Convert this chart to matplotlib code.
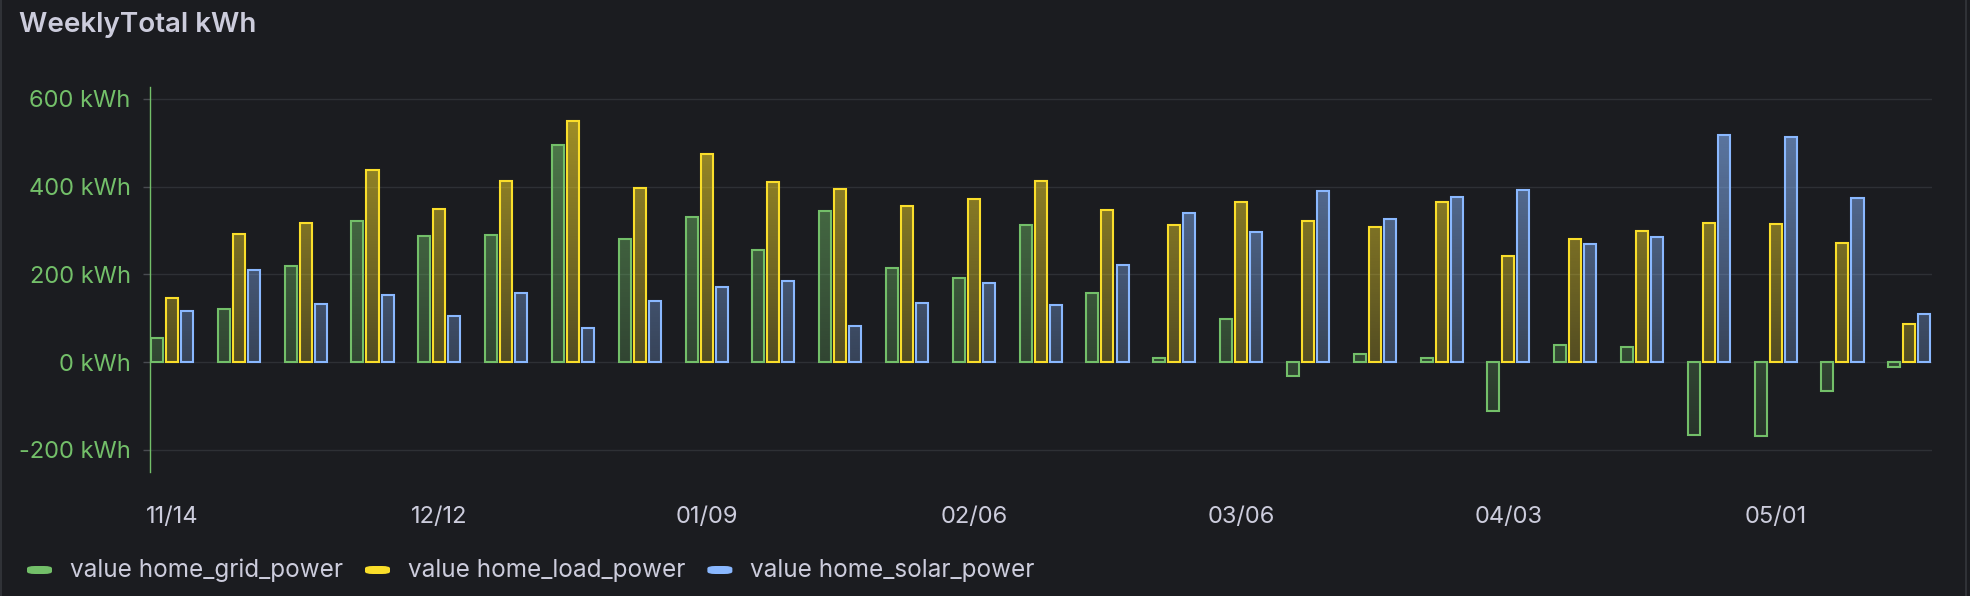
import numpy as np
import pandas as pd
import matplotlib
matplotlib.use("Agg")
import matplotlib.pyplot as plt
from matplotlib.path import Path
from matplotlib.patches import Rectangle, FancyBboxPatch
from matplotlib.colors import to_rgb

plt.rcParams['font.family'] = ['Inter', 'DejaVu Sans']

# weekly totals (kWh), one value per week starting 2022-11-14
weeks = pd.date_range('2022-11-14', periods=27, freq='7D')
grid_power = [55, 121, 219, 322, 287, 290, 494, 280, 331, 255, 344, 214, 192, 312,
              157, 9, 98, -32, 18, 9, -112, 39, 34, -166, -169, -66, -11]
load_power = [146, 291, 317, 437, 348, 412, 549, 398, 474, 410, 395, 357, 372, 413,
              347, 312, 364, 321, 308, 365, 242, 280, 299, 317, 315, 271, 87]
solar_power = [116, 210, 132, 153, 105, 157, 78, 139, 171, 184, 82, 135, 180, 130,
               221, 340, 296, 390, 326, 376, 392, 269, 285, 518, 513, 374, 109]

series = [
    ('value home_grid_power', grid_power, '#73BF69'),
    ('value home_load_power', load_power, '#FADE2A'),
    ('value home_solar_power', solar_power, '#8AB8FF'),
]
yticks = [-200, 0, 200, 400, 600]

bg = '#1b1c20'
text_col = '#ccccdc'
W, H = 1970, 596

fig = plt.figure(figsize=(W / 100, H / 100), dpi=100, facecolor=bg)
ax = fig.add_axes([150 / W, 1 - 471.7 / H, (1932 - 150) / W, (471.7 - 86.7) / H])
ax.set_facecolor(bg)

x = np.arange(len(weeks))
ylim = (-250, 628)
xlim = (-0.33, len(weeks) - 1 + 0.34)
offsets = [-0.225, 0.0, 0.225]
bw = 0.18

for (name, vals, col), off in zip(series, offsets):
    bars = ax.bar(x + off, vals, bw, facecolor='none', edgecolor=col,
                  linewidth=1.5, zorder=3)
    # gradient fill clipped to the bars
    paths = [b.get_path().transformed(b.get_patch_transform()) for b in bars]
    clip = Path.make_compound_path(*paths)
    n = 256
    grad = np.zeros((n, 1, 4))
    grad[:, 0, :3] = to_rgb(col)
    grad[:, 0, 3] = np.linspace(0.10, 0.64, n)
    im = ax.imshow(grad, extent=[xlim[0], xlim[1], ylim[0], ylim[1]],
                   origin='lower', aspect='auto', zorder=2, interpolation='bilinear')
    im.set_clip_path(clip, ax.transData)

ax.set_xlim(*xlim)
ax.set_ylim(*ylim)

ax.set_yticks(yticks)
ax.set_yticklabels([f'{v} kWh' for v in yticks])
ax.grid(axis='y', color='#2e3035', linewidth=1, zorder=0)
ax.grid(axis='x', visible=False)
ax.tick_params(axis='y', colors='#4a4c52', labelcolor='#73BF69', length=5,
               width=1, pad=9, labelsize=17)

tick_idx = x[::4]
ax.set_xticks(tick_idx)
ax.set_xticklabels([weeks[i].strftime('%m/%d') for i in tick_idx])
ax.tick_params(axis='x', length=0, pad=25, labelcolor=text_col, labelsize=17)

for s in ['top', 'right', 'bottom']:
    ax.spines[s].set_visible(False)
ax.spines['left'].set_color('#73BF69')
ax.spines['left'].set_linewidth(1)

# panel title
fig.text(19 / W, 1 - 32 / H, 'WeeklyTotal kWh', color=text_col, fontsize=20,
         fontweight='semibold', va='baseline', ha='left')

# panel border
fig.add_artist(Rectangle((1 / W, -0.02), 1965 / W, 1.04, transform=fig.transFigure,
                         fill=False, edgecolor='#303237', linewidth=1.5))

# legend
fig.canvas.draw()
renderer = fig.canvas.get_renderer()
lx = 27
ly = 570
for name, vals, col in series:
    fig.add_artist(FancyBboxPatch((lx / W, (H - ly - 4) / H), 25 / W, 8 / H,
                                  boxstyle='round,pad=0,rounding_size=0.004',
                                  transform=fig.transFigure, facecolor=col,
                                  edgecolor='none'))
    t = fig.text((lx + 43) / W, 1 - ly / H, name, color=text_col, fontsize=17.5,
                 va='center', ha='left')
    bb = t.get_window_extent(renderer)
    lx = bb.x1 + 22

fig.savefig('out.png', dpi=100, facecolor=bg)
